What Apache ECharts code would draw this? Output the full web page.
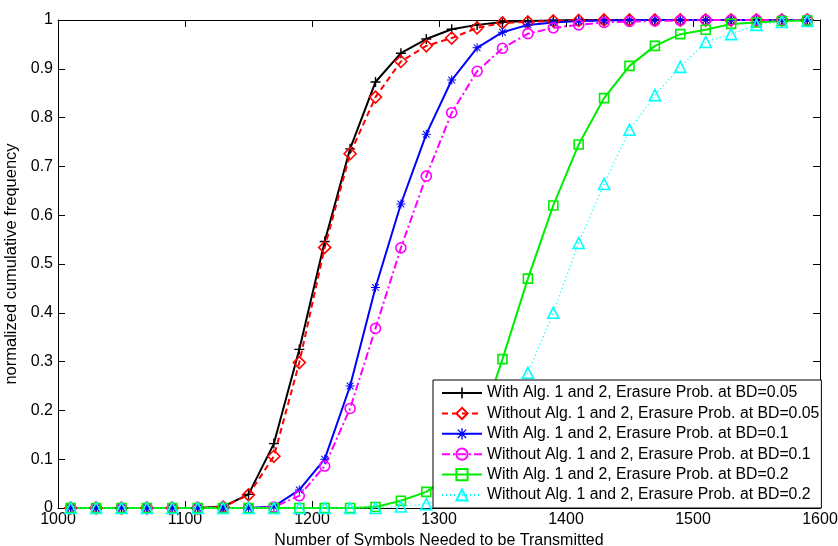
<!DOCTYPE html>
<html>
<head>
<meta charset="utf-8">
<script src="https://cdn.jsdelivr.net/npm/echarts@6/dist/echarts.min.js"></script>
<style>
  html, body { margin: 0; padding: 0; background: #fff; }
  #chart { width: 838px; height: 546px; }
</style>
</head>
<body>
<div id="chart"></div>
<script>
// Number of transmitted symbols at which each empirical CDF was sampled
const symbols = [1010, 1030, 1050, 1070, 1090, 1110, 1130, 1150, 1170, 1190,
                 1210, 1230, 1250, 1270, 1290, 1310, 1330, 1350, 1370, 1390,
                 1410, 1430, 1450, 1470, 1490, 1510, 1530, 1550, 1570, 1590];

const withAlgBD005 = [0, 0, 0, 0, 0, 0, 0.003, 0.028, 0.132, 0.325,
                      0.546, 0.736, 0.873, 0.932, 0.961, 0.981, 0.990, 0.996, 0.998, 0.999,
                      1, 1, 1, 1, 1, 1, 1, 1, 1, 1];
const withoutAlgBD005 = [0, 0, 0, 0, 0, 0, 0.002, 0.027, 0.106, 0.298,
                         0.534, 0.726, 0.842, 0.915, 0.947, 0.963, 0.984, 0.994, 0.996, 0.998,
                         0.999, 1, 1, 1, 1, 1, 1, 1, 1, 1];
const withAlgBD01 = [0, 0, 0, 0, 0, 0, 0, 0, 0.003, 0.037,
                     0.100, 0.250, 0.452, 0.623, 0.766, 0.877, 0.943, 0.975, 0.990, 0.995,
                     0.998, 0.999, 1, 1, 1, 1, 1, 1, 1, 1];
const withoutAlgBD01 = [0, 0, 0, 0, 0, 0, 0, 0, 0.002, 0.025,
                        0.086, 0.204, 0.368, 0.533, 0.680, 0.810, 0.895, 0.942, 0.972, 0.984,
                        0.990, 0.995, 0.997, 0.998, 0.999, 1, 1, 1, 1, 1];
const withAlgBD02 = [0, 0, 0, 0, 0, 0, 0, 0, 0, 0,
                     0, 0, 0.002, 0.015, 0.033, 0.070, 0.150, 0.305, 0.470, 0.620,
                     0.745, 0.840, 0.906, 0.947, 0.971, 0.980, 0.992, 0.995, 0.998, 0.999];
const withoutAlgBD02 = [0, 0, 0, 0, 0, 0, 0, 0, 0, 0,
                        0, 0, 0, 0.003, 0.008, 0.025, 0.070, 0.160, 0.277, 0.400,
                        0.543, 0.664, 0.775, 0.846, 0.904, 0.955, 0.971, 0.990, 0.996, 0.998];

const seriesNames = [
  'With Alg. 1 and 2, Erasure Prob. at BD=0.05',
  'Without Alg. 1 and 2, Erasure Prob. at BD=0.05',
  'With Alg. 1 and 2, Erasure Prob. at BD=0.1',
  'Without Alg. 1 and 2, Erasure Prob. at BD=0.1',
  'With Alg. 1 and 2, Erasure Prob. at BD=0.2',
  'Without Alg. 1 and 2, Erasure Prob. at BD=0.2'
];

const xTicks = { min: 1000, max: 1600, step: 100 };
const yTicks = { min: 0, max: 1, step: 0.1 };

// Marker shapes
const plusPath = 'path://M4.3,0 H5.7 V4.3 H10 V5.7 H5.7 V10 H4.3 V5.7 H0 V4.3 H4.3 Z';
const starPath = 'path://M4.4,0 H5.6 V10 H4.4 Z M0,4.4 H10 V5.6 H0 Z ' +
  'M0.9,1.7 L1.7,0.9 L9.1,8.3 L8.3,9.1 Z M8.3,0.9 L9.1,1.7 L1.7,9.1 L0.9,8.3 Z';

const styles = [
  { data: withAlgBD005, color: '#000000', line: 'solid', width: 2, symbol: plusPath, size: 10, filled: true },
  { data: withoutAlgBD005, color: '#ff0000', line: [6, 4], width: 2, symbol: 'diamond', size: 12, filled: false },
  { data: withAlgBD01, color: '#0000ff', line: 'solid', width: 2, symbol: starPath, size: 9, filled: true },
  { data: withoutAlgBD01, color: '#ff00ff', line: [8, 3, 2, 3], width: 2, symbol: 'circle', size: 10, filled: false },
  { data: withAlgBD02, color: '#00ee00', line: 'solid', width: 2, symbol: 'rect', size: 9, filled: false },
  { data: withoutAlgBD02, color: '#00ffff', line: [1, 3], width: 1.5, symbol: 'triangle', size: 11, filled: false }
];

const series = styles.map((s, i) => ({
  name: seriesNames[i],
  type: 'line',
  data: symbols.map((x, k) => [x, s.data[k]]),
  symbol: s.symbol,
  symbolSize: s.size,
  showAllSymbol: true,
  color: s.color,
  lineStyle: { color: s.color, width: s.width, type: s.line },
  itemStyle: s.filled
    ? { color: s.color }
    : { color: 'rgba(255,255,255,0)', borderColor: s.color, borderWidth: 1.6 },
  emphasis: { disabled: true },
  animation: false
}));

const font = 'Liberation Sans, Arial, Helvetica, sans-serif';
const axisCommon = {
  type: 'value',
  axisLine: { show: true, onZero: false, lineStyle: { color: '#000', width: 1 } },
  axisTick: { show: true, inside: true, length: 7, lineStyle: { color: '#000', width: 1 } },
  splitLine: { show: false }
};

const chart = echarts.init(document.getElementById('chart'), null, { renderer: 'canvas' });
chart.setOption({
  backgroundColor: '#ffffff',
  animation: false,
  textStyle: { fontFamily: font },
  grid: { left: 58, right: 18, top: 20, bottom: 38, containLabel: false, outerBoundsMode: 'none' },
  xAxis: [
    Object.assign({}, axisCommon, {
      position: 'bottom',
      min: xTicks.min, max: xTicks.max, interval: xTicks.step,
      name: 'Number of Symbols Needed to be Transmitted',
      nameLocation: 'middle', nameGap: 23,
      nameTextStyle: { color: '#000', fontSize: 16, fontFamily: font },
      axisLabel: { color: '#000', fontSize: 16, margin: 4, fontFamily: font, formatter: v => String(v) }
    }),
    Object.assign({}, axisCommon, {
      position: 'top',
      min: xTicks.min, max: xTicks.max, interval: xTicks.step,
      axisLabel: { show: false }
    })
  ],
  yAxis: [
    Object.assign({}, axisCommon, {
      position: 'left',
      min: yTicks.min, max: yTicks.max, interval: yTicks.step,
      name: 'normalized cumulative frequency',
      nameLocation: 'middle', nameGap: 29, nameRotate: 90,
      nameTextStyle: { color: '#000', fontSize: 16.5, fontFamily: font },
      axisLabel: {
        color: '#000', fontSize: 16, margin: 5, fontFamily: font,
        formatter: v => (v === 0 || v === 1) ? String(v) : v.toFixed(1)
      }
    }),
    Object.assign({}, axisCommon, {
      position: 'right',
      min: yTicks.min, max: yTicks.max, interval: yTicks.step,
      axisLabel: { show: false }
    })
  ],
  legend: {
    data: seriesNames,
    orient: 'vertical',
    left: 433,
    top: 380,
    itemWidth: 40,
    itemHeight: 14,
    itemGap: 4.4,
    padding: [5, 2, 5, 8],
    backgroundColor: '#ffffff',
    borderColor: '#000000',
    borderWidth: 1,
    borderRadius: 0,
    selectedMode: false,
    textStyle: { color: '#000', fontSize: 15.8, lineHeight: 16, fontFamily: font }
  },
  series: series
});
</script>
</body>
</html>
